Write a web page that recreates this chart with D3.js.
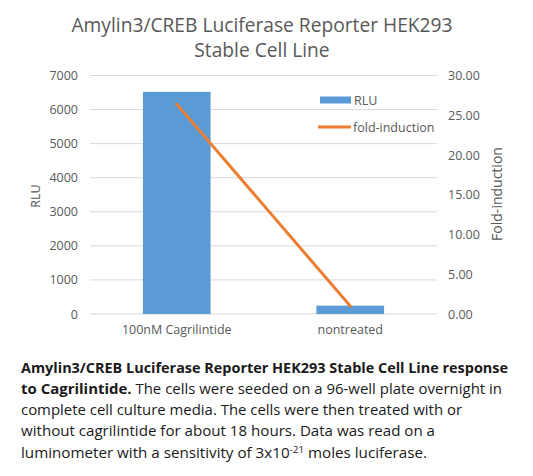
<!DOCTYPE html>
<html>
<head>
<meta charset="utf-8">
<script src="https://cdn.jsdelivr.net/npm/d3@7"></script>
<style>
  body { margin: 0; background: #fff; }
  text { font-family: "Open Sans", "Noto Sans", sans-serif; }
</style>
</head>
<body>
<svg id="chart" width="533" height="476"></svg>
<script>
// data
let categories = ["100nM Cagrilintide", "nontreated"];
let rluValues = [6520, 245];
let foldValues = [26.4, 1.0];
let rluTicks = [0, 1000, 2000, 3000, 4000, 5000, 6000, 7000];
let foldTicks = [0, 5, 10, 15, 20, 25, 30];
let titleLines = ["Amylin3/CREB Luciferase Reporter HEK293", "Stable Cell Line"];

let svg = d3.select("#chart");
let plotLeft = 90, plotRight = 437, plotTop = 75.5, plotBottom = 314;

let x = d3.scaleBand().domain(categories).range([plotLeft, plotRight]).paddingInner(0.61).paddingOuter(0.305);
let yL = d3.scaleLinear().domain([0, 7000]).range([plotBottom, plotTop]);
let yR = d3.scaleLinear().domain([0, 30]).range([plotBottom, plotTop]);

// title
svg.append("g").selectAll("text")
  .data(titleLines)
  .enter().append("text")
  .attr("x", 262)
  .attr("y", function(d, i) { return 32 + i * 25; })
  .attr("text-anchor", "middle")
  .attr("font-size", 19.2)
  .attr("fill", "#595959")
  .text(function(d) { return d; });

// gridlines
svg.append("g").selectAll("line")
  .data(rluTicks)
  .enter().append("line")
  .attr("x1", plotLeft).attr("x2", plotRight)
  .attr("y1", function(d) { return yL(d); })
  .attr("y2", function(d) { return yL(d); })
  .attr("stroke", "#d9d9d9")
  .attr("stroke-width", 1);

// axes
let axL = svg.append("g")
  .attr("transform", "translate(" + (plotLeft - 12) + ",0)")
  .call(d3.axisLeft(yL).tickValues(rluTicks).tickSize(0).tickPadding(0).tickFormat(d3.format("d")));
let axR = svg.append("g")
  .attr("transform", "translate(" + (plotRight + 11) + ",0)")
  .call(d3.axisRight(yR).tickValues(foldTicks).tickSize(0).tickPadding(0).tickFormat(d3.format(".2f")));
let axB = svg.append("g")
  .attr("transform", "translate(0," + (plotBottom + 11) + ")")
  .call(d3.axisBottom(x).tickSize(0).tickPadding(0));

[axL, axR, axB].forEach(function(a) {
  a.select(".domain").remove();
  a.selectAll("text")
    .attr("font-family", "\"Open Sans\", \"Noto Sans\", sans-serif")
    .attr("font-size", 12.5)
    .attr("fill", "#595959");
});

// axis titles
svg.append("text")
  .attr("transform", "translate(40,196) rotate(-90)")
  .attr("text-anchor", "middle")
  .attr("font-size", 12.5)
  .attr("fill", "#595959")
  .text("RLU");
svg.append("text")
  .attr("transform", "translate(502,194) rotate(-90)")
  .attr("text-anchor", "middle")
  .attr("font-size", 14)
  .attr("fill", "#595959")
  .text("Fold-induction");

// bars
svg.append("g").selectAll("rect")
  .data(rluValues)
  .enter().append("rect")
  .attr("x", function(d, i) { return x(categories[i]); })
  .attr("width", x.bandwidth())
  .attr("y", function(d) { return yL(d); })
  .attr("height", function(d) { return plotBottom - yL(d); })
  .attr("fill", "#5b9bd5");

// fold-induction line
let line = d3.line()
  .x(function(d, i) { return x(categories[i]) + x.bandwidth() / 2; })
  .y(function(d) { return yR(d); });
svg.append("path")
  .datum(foldValues)
  .attr("d", line)
  .attr("fill", "none")
  .attr("stroke", "#ed7d31")
  .attr("stroke-width", 3)
  .attr("stroke-linecap", "round");

// legend
let lg = svg.append("g").attr("transform", "translate(320,0)");
lg.append("rect").attr("x", 0).attr("y", 96.5).attr("width", 31).attr("height", 7).attr("fill", "#5b9bd5");
lg.append("text").attr("x", 34).attr("y", 104.5).attr("font-size", 12.5).attr("fill", "#595959").text("RLU");
lg.append("line").attr("x1", -2).attr("x2", 31).attr("y1", 127).attr("y2", 127)
  .attr("stroke", "#ed7d31").attr("stroke-width", 3);
lg.append("text").attr("x", 33).attr("y", 131.5).attr("font-size", 12.5).attr("fill", "#595959").text("fold-induction");

// caption
let cap = svg.append("g").attr("font-size", 14.5).attr("fill", "#1a1a1a");
let c1 = cap.append("text").attr("x", 21).attr("y", 373).attr("textLength", 487).attr("lengthAdjust", "spacingAndGlyphs");
c1.append("tspan").attr("font-weight", "bold").text("Amylin3/CREB Luciferase Reporter HEK293 Stable Cell Line response");
let c2 = cap.append("text").attr("x", 21).attr("y", 394).attr("textLength", 481).attr("lengthAdjust", "spacingAndGlyphs");
c2.append("tspan").attr("font-weight", "bold").text("to Cagrilintide.");
c2.append("tspan").text(" The cells were seeded on a 96-well plate overnight in");
cap.append("text").attr("x", 21).attr("y", 415).attr("textLength", 441).attr("lengthAdjust", "spacingAndGlyphs")
  .text("complete cell culture media. The cells were then treated with or");
cap.append("text").attr("x", 21).attr("y", 436).attr("textLength", 414).attr("lengthAdjust", "spacingAndGlyphs")
  .text("without cagrilintide for about 18 hours. Data was read on a");
let c5 = cap.append("text").attr("x", 21).attr("y", 458).attr("textLength", 406).attr("lengthAdjust", "spacingAndGlyphs");
c5.append("tspan").text("luminometer with a sensitivity of 3x10");
c5.append("tspan").attr("font-size", 9.5).attr("dy", -5).text("-21");
c5.append("tspan").attr("dy", 5).text(" moles luciferase.");
</script>
</body>
</html>
